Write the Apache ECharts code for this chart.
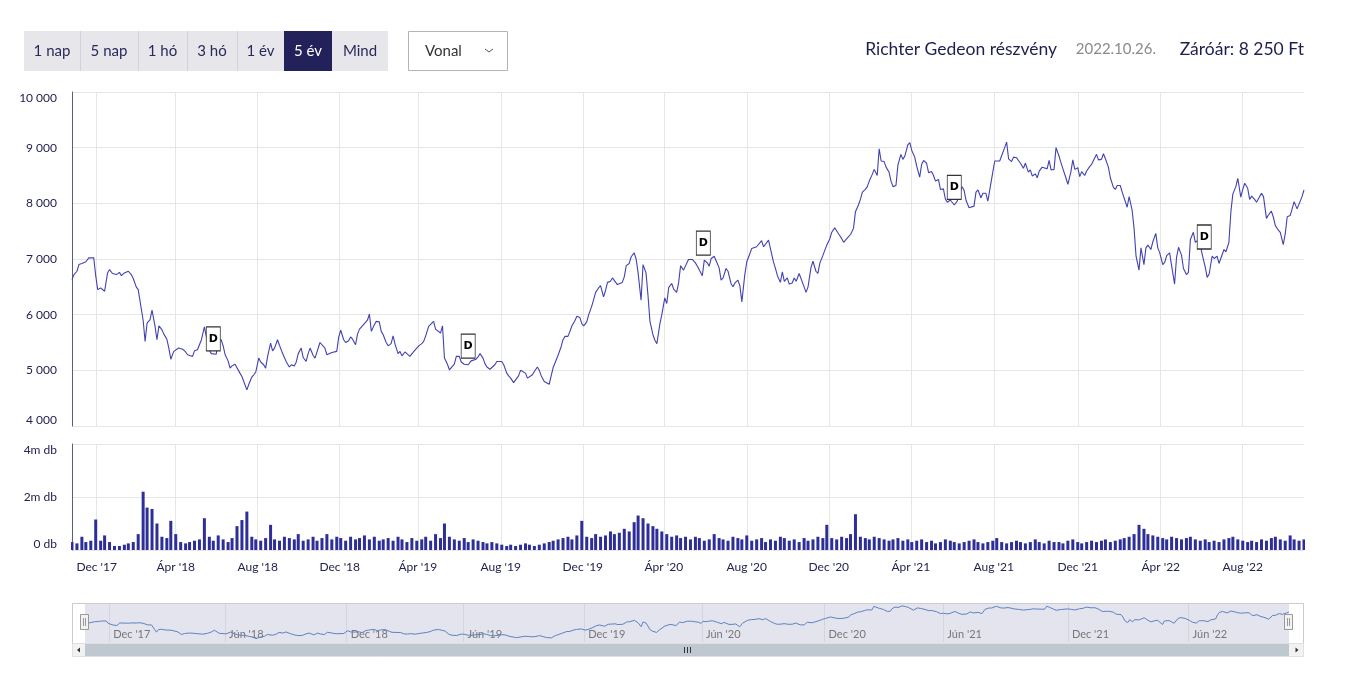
<!DOCTYPE html>
<html><head><meta charset="utf-8">
<script src="https://cdn.jsdelivr.net/npm/echarts@6/dist/echarts.min.js"></script>
<style>html,body{margin:0;padding:0;background:#fff;}#c{width:1345px;height:678px;}</style>
</head><body><div id="c"></div>
<script>
// ---------- DATA ----------
const firstDay = '2017-10-26';
const lastDay = '2022-10-26';
// Budapest Stock Exchange non-trading weekdays
const holidays = [
 '2017-11-01','2017-12-25','2017-12-26',
 '2018-01-01','2018-03-15','2018-03-16','2018-03-30','2018-04-02','2018-04-30','2018-05-01','2018-05-21','2018-08-20','2018-10-22','2018-10-23','2018-11-01','2018-11-02','2018-12-24','2018-12-25','2018-12-26','2018-12-31',
 '2019-01-01','2019-03-15','2019-04-19','2019-04-22','2019-05-01','2019-06-10','2019-08-19','2019-08-20','2019-10-23','2019-11-01','2019-12-24','2019-12-25','2019-12-26','2019-12-27',
 '2020-01-01','2020-04-10','2020-04-13','2020-05-01','2020-06-01','2020-08-20','2020-08-21','2020-10-23','2020-12-24','2020-12-25',
 '2021-01-01','2021-03-15','2021-04-02','2021-04-05','2021-05-24','2021-08-20','2021-11-01','2021-12-24',
 '2022-03-14','2022-03-15','2022-04-15','2022-04-18','2022-06-06'
];
// closing price, sampled about twice a week (Ft)
const priceSamples = [
 6630,6720,6780,6900,6920,6940,6950,7020,7000,7020,
 6700,6450,6480,6450,6420,6750,6810,6740,6760,6720,
 6760,6700,6750,6730,6780,6720,6650,6500,6450,6480,
 5900,5520,5850,5910,6080,5800,5550,5800,5730,5650,
 5560,5400,5200,5340,5360,5400,5370,5380,5330,5280,
 5290,5250,5350,5370,5390,5550,5780,5600,5360,5300,
 5330,5290,5540,5550,5440,5280,5170,5040,5080,5110,
 5130,4950,4890,4870,4650,4750,4880,4920,4970,5220,
 5150,5100,5040,5250,5490,5350,5400,5550,5450,5310,
 5290,5150,5060,5100,5080,5150,5300,5400,5230,5160,
 5300,5400,5270,5220,5200,5500,5470,5400,5280,5300,
 5320,5300,5340,5600,5720,5550,5500,5530,5600,5560,
 5460,5650,5740,5800,5800,5900,6010,5700,5820,5880,
 5870,
 5700,5640,5500,5440,5480,5620,5470,5300,5340,5260,
 5330,5360,5250,5240,5340,5400,5440,5480,5520,5620,
 5790,5800,5880,5740,5760,5670,5800,5220,5110,5010,
 5070,5110,5250,5250,5150,5110,5100,5100,5170,5190,
 5200,5240,5300,5220,5120,5060,5020,5050,5100,5160,
 5180,5160,5100,4950,4900,4860,4780,4760,4900,5000,
 4970,4950,4860,4890,4920,4980,5060,5000,4900,4800,
 4770,4750,4900,5050,5180,5270,5420,5550,5610,5610,
 5700,5800,5890,5970,5950,5840,5800,5870,6000,6150,
 6270,6400,6480,6520,6320,6430,6580,6600,6660,6640,
 6540,6540,6580,6680,6880,6920,7040,7110,7000,6750,
 6260,6900,6750,6350,5880,5640,5540,5480,5830,6000,
 6300,6200,6490,6560,6460,6400,6570,6880,6800,6800,
 6990,6970,6990,6930,6870,6870,6700,6980,6930,6870,
 7010,7050,6970,6840,6620,6660,6830,6780,6560,6500,
 6570,6620,6520,6230,6720,6950,7090,7190,7210,7220,
 7250,7330,7220,7200,7340,7180,6950,6830,6700,6580,
 6770,6600,6660,6550,6570,6660,6600,6740,6750,6500,
 6400,6500,6850,6960,6780,6740,6930,7060,7160,7250,
 7360,7480,7560,7530,7450,7370,7300,7360,7400,7440,
 7550,7850,7970,8070,8200,8250,8300,8400,8520,8610,
 8500,8980,8760,8750,8650,8560,8400,8300,8320,8690,
 8880,8790,8850,9050,9090,8950,8830,8670,8470,8700,
 8770,8720,8550,8570,8500,8400,8430,8250,8260,8080,
 8020,8060,8030,7970,8040,8170,8300,8230,8050,7920,
 7910,7950,8200,8240,8100,8180,8180,8040,8010,
 8560,8760,8760,8760,8780,9000,9100,8800,8750,8830,
 8820,8770,8720,8630,8720,8560,8600,8490,8530,8460,
 8580,8650,8640,8620,8770,8600,8610,9000,8850,8730,
 8620,8460,8340,8560,8780,8610,8640,8480,8570,8500,
 8580,8660,8700,8730,8880,8780,8790,8890,8800,8650,
 8460,8290,8250,8320,8320,8200,8200,7930,8120,7880,
 7550,7050,6800,7200,6900,7200,7250,7170,7310,7460,
 7200,7110,6900,6940,7060,7110,6880,6550,7030,7210,
 7070,6830,6720,6760,7350,7480,7300,7340,7250,7080,
 6860,6670,6730,7050,7010,7050,6920,6940,7170,7130,
 7300,7850,8170,8300,8450,8110,8250,8360,8270,8070,
 8130,8070,8020,8120,8180,8120,7730,7790,7860,7750,
 7600,7520,7480,7260,7450,7760,7780,7900,8030,7900,
 7900,8120,8240
];
// traded volume, sampled about weekly (million shares)
const volumeSamples = [
 0.3,0.25,0.5,0.3,0.35,1.15,0.35,0.55,0.3,0.15,
 0.15,0.2,0.25,0.3,0.6,2.2,1.6,1.55,1.0,0.5,
 0.45,1.1,0.6,0.3,0.25,0.3,0.35,0.4,1.2,0.5,
 0.35,0.55,0.4,0.3,0.45,0.9,1.13,1.45,0.5,0.4,
 0.35,0.45,0.95,0.4,0.35,0.5,0.45,0.4,0.6,0.35,
 0.4,0.5,0.35,0.45,0.6,0.4,0.5,0.45,0.35,0.5,
 0.4,0.45,0.55,0.4,0.5,0.35,
 0.4,0.45,0.35,0.5,0.4,0.3,0.45,0.35,0.4,0.5,
 0.35,0.6,0.45,1.0,0.5,0.4,0.35,0.45,0.3,0.4,
 0.35,0.3,0.25,0.3,0.25,0.2,0.15,0.2,0.15,0.2,
 0.25,0.2,0.15,0.2,0.25,0.3,0.35,0.4,0.45,0.5,
 0.4,0.55,1.1,0.5,0.45,0.6,0.5,0.55,0.7,0.6,
 0.65,0.8,0.7,1.05,1.3,1.2,1.0,0.9,0.8,0.7,
 0.6,0.5,0.55,0.45,0.5,
 0.4,0.5,0.45,0.35,0.4,0.6,0.45,0.4,0.35,0.5,
 0.45,0.4,0.55,0.35,0.4,0.45,0.3,0.4,0.35,0.5,
 0.45,0.35,0.4,0.3,0.45,0.35,0.4,0.5,0.45,0.95,
 0.45,0.4,0.5,0.45,0.6,1.35,0.5,0.45,0.4,0.5,
 0.45,0.4,0.35,0.4,0.45,0.35,0.4,0.3,0.35,0.4,
 0.3,0.35,0.25,0.3,0.4,0.35,0.3,0.25,0.3,0.35,
 0.4,0.3,0.25,0.3,
 0.35,0.45,0.3,0.25,0.3,0.35,0.3,0.25,0.3,0.4,
 0.3,0.25,0.35,0.3,0.3,0.25,0.35,0.4,0.3,0.25,
 0.3,0.35,0.3,0.35,0.4,0.3,0.35,0.4,0.45,0.5,
 0.6,0.95,0.8,0.6,0.55,0.5,0.45,0.4,0.5,0.45,
 0.4,0.45,0.5,0.4,0.35,0.4,0.3,0.35,0.3,0.4,
 0.45,0.5,0.4,0.35,0.3,0.35,0.3,0.4,0.35,0.45,
 0.5,0.4,0.35,0.55,0.4,0.35,0.4
];
// dividend flags: [date, price level]
const dividendFlags = [
 ['2018-05-30', 5350], ['2019-06-17', 5220], ['2020-06-02', 7070], ['2021-06-07', 8070], ['2022-06-07', 7180]
];
const mainTickMonths = {11: 'Dec', 3: 'Ápr', 7: 'Aug'};
const navTickMonths = {11: 'Dec', 5: 'Jún'};
const rangeButtons = ['1 nap', '5 nap', '1 hó', '3 hó', '1 év', '5 év', 'Mind'];
const selectedButton = 5;
const chartTypeLabel = 'Vonal';
const titleText = 'Richter Gedeon részvény';
const dateText = '2022.10.26.';
const closeText = 'Záróár: 8 250 Ft';

// ---------- BUILD ----------
const hol = new Set(holidays);
const days = [];
{
  const s = Date.parse(firstDay + 'T00:00:00Z'), e = Date.parse(lastDay + 'T00:00:00Z');
  for (let t = s; t <= e; t += 86400000) {
    const d = new Date(t), wd = d.getUTCDay();
    if (wd === 0 || wd === 6) continue;
    const iso = d.toISOString().slice(0, 10);
    if (!hol.has(iso)) days.push(iso);
  }
}
const N = days.length;
function spread(samples) {
  const out = new Array(N).fill('-');
  for (let i = 0; i < samples.length; i++) out[Math.round(i * (N - 1) / (samples.length - 1))] = samples[i];
  return out;
}
const priceData = spread(priceSamples);
const volData = spread(volumeSamples);
const monthOf = s => +s.slice(5, 7) - 1;
function tickFn(months) {
  return function (idx) {
    if (idx <= 0 || idx >= N) return false;
    const m = monthOf(days[idx]);
    return m !== monthOf(days[idx - 1]) && (m in months);
  };
}
function labelFn(months) {
  return function (val) { return months[monthOf(val)] + " '" + val.slice(2, 4); };
}
function dayIndex(d) { for (let i = 0; i < N; i++) if (days[i] >= d) return i; return N - 1; }
const fmtThousand = v => String(v).replace(/\B(?=(\d{3})+(?!\d))/g, ' ');

const FONT = 'Lato, "Noto Sans", sans-serif';
const INK = '#23234f';
const GRID = '#e6e6e6';

// ---------- UI chrome (graphic) ----------
const btnEdges = [24, 80, 138, 187, 237, 284, 332, 388];
const G = [];
G.push({type: 'rect', shape: {x: btnEdges[0], y: 31, width: btnEdges[7] - btnEdges[0], height: 40}, style: {fill: '#e6e6eb'}});
rangeButtons.forEach((t, i) => {
  const x0 = btnEdges[i], x1 = btnEdges[i + 1];
  if (i === selectedButton) G.push({type: 'rect', shape: {x: x0, y: 31, width: x1 - x0, height: 40}, style: {fill: '#23215a'}});
  if (i > 0 && i !== selectedButton && i !== selectedButton + 1) G.push({type: 'line', shape: {x1: x0 + 0.5, y1: 31, x2: x0 + 0.5, y2: 71}, style: {stroke: '#d2d2da', lineWidth: 1}});
  G.push({type: 'text', x: (x0 + x1) / 2, y: 51, style: {text: t, font: '15px ' + FONT, fill: i === selectedButton ? '#ffffff' : '#2a2a5a', textAlign: 'center', textVerticalAlign: 'middle'}});
});
G.push({type: 'rect', shape: {x: 408.5, y: 31.5, width: 99, height: 39}, style: {fill: '#fff', stroke: '#b4b4b4', lineWidth: 1}});
G.push({type: 'text', x: 425, y: 51, style: {text: chartTypeLabel, font: '15px ' + FONT, fill: '#333', textVerticalAlign: 'middle'}});
G.push({type: 'polyline', shape: {points: [[485, 49], [489, 52], [493, 49]]}, style: {stroke: '#555', lineWidth: 1, fill: null}});
G.push({type: 'text', x: 1304, y: 49, style: {text: closeText, font: '17.5px ' + FONT, fill: '#1f1f4f', textAlign: 'right', textVerticalAlign: 'middle'}});
G.push({type: 'text', x: 1156, y: 49, style: {text: dateText, font: '15px ' + FONT, fill: '#8a8a8a', textAlign: 'right', textVerticalAlign: 'middle'}});
G.push({type: 'text', x: 1057, y: 49, style: {text: titleText, font: '17.5px ' + FONT, fill: '#1f1f4f', textAlign: 'right', textVerticalAlign: 'middle'}});
// navigator frame
G.push({type: 'rect', z: -30, shape: {x: 72.5, y: 603.5, width: 1231, height: 40}, style: {fill: '#fff', stroke: '#cccccc', lineWidth: 1}});
G.push({type: 'rect', z: -25, shape: {x: 85, y: 604, width: 1204, height: 39}, style: {fill: '#e4e4ee'}});
// scrollbar
G.push({type: 'rect', shape: {x: 72.5, y: 643.5, width: 1231, height: 13}, style: {fill: '#f2f2f2', stroke: '#e0e0e0', lineWidth: 1}});
G.push({type: 'rect', shape: {x: 85, y: 644, width: 1204, height: 12}, style: {fill: '#bfc8d1'}});
G.push({type: 'polygon', shape: {points: [[80, 647.5], [80, 652.5], [77, 650]]}, style: {fill: '#333'}});
G.push({type: 'polygon', shape: {points: [[1295.5, 647.5], [1295.5, 652.5], [1298.5, 650]]}, style: {fill: '#333'}});
[684.5, 687.5, 690.5].forEach(x => G.push({type: 'line', shape: {x1: x, y1: 647, x2: x, y2: 653}, style: {stroke: '#333', lineWidth: 1}}));
// navigator handles
[85, 1289].forEach(x => {
  G.push({type: 'rect', z: 50, shape: {x: x - 4.5, y: 614.5, width: 8, height: 15}, style: {fill: '#f2f2f2', stroke: '#999', lineWidth: 1}});
  G.push({type: 'line', z: 51, shape: {x1: x - 1.5, y1: 618, x2: x - 1.5, y2: 626}, style: {stroke: '#999', lineWidth: 1}});
  G.push({type: 'line', z: 51, shape: {x1: x + 0.5, y1: 618, x2: x + 0.5, y2: 626}, style: {stroke: '#999', lineWidth: 1}});
});

const chart = echarts.init(document.getElementById('c'), null, {renderer: 'canvas'});
chart.setOption({
  animation: false,
  textStyle: {fontFamily: FONT},
  grid: [
    {left: 72, top: 92, width: 1232, height: 334},
    {left: 72, top: 444, width: 1232, height: 106},
    {left: 85, top: 604, width: 1204, height: 38}
  ],
  xAxis: [
    {gridIndex: 0, type: 'category', data: days, boundaryGap: false, axisLine: {show: false}, axisTick: {show: false},
     axisLabel: {show: false}, splitLine: {show: true, interval: tickFn(mainTickMonths), lineStyle: {color: GRID}}},
    {gridIndex: 1, type: 'category', data: days, boundaryGap: false, axisLine: {show: false}, axisTick: {show: false},
     axisLabel: {show: true, interval: tickFn(mainTickMonths), formatter: labelFn(mainTickMonths), color: INK, fontSize: 12, margin: 11, fontFamily: FONT},
     splitLine: {show: true, interval: tickFn(mainTickMonths), lineStyle: {color: GRID}}},
    {gridIndex: 2, type: 'category', data: days, boundaryGap: false, axisLine: {show: false}, axisTick: {show: false},
     axisLabel: {show: true, inside: true, interval: tickFn(navTickMonths), formatter: labelFn(navTickMonths), color: '#777', fontSize: 11, margin: 2, align: 'left', padding: [0, 0, 0, 4], fontFamily: FONT},
     splitLine: {show: true, interval: tickFn(navTickMonths), lineStyle: {color: '#d4d4de'}}}
  ],
  yAxis: [
    {gridIndex: 0, type: 'value', min: 4000, max: 10000, interval: 1000,
     axisLine: {show: true, lineStyle: {color: '#5c5c80'}}, axisTick: {show: false},
     axisLabel: {margin: 15, color: INK, fontSize: 12, fontFamily: FONT, formatter: fmtThousand, verticalAlignMaxLabel: 'top', verticalAlignMinLabel: 'bottom'},
     splitLine: {lineStyle: {color: GRID}}},
    {gridIndex: 1, type: 'value', min: 0, max: 4, interval: 2,
     axisLine: {show: true, lineStyle: {color: '#5c5c80'}}, axisTick: {show: false},
     axisLabel: {margin: 15, color: INK, fontSize: 12, fontFamily: FONT, formatter: v => v === 0 ? '0 db' : v + 'm db', verticalAlignMaxLabel: 'top', verticalAlignMinLabel: 'bottom'},
     splitLine: {lineStyle: {color: GRID}}},
    {gridIndex: 2, type: 'value', min: 4200, max: 9300, show: false, splitLine: {show: false}}
  ],
  series: [
    {type: 'line', xAxisIndex: 0, yAxisIndex: 0, data: priceData, connectNulls: true, symbol: 'none', silent: true,
     lineStyle: {color: '#4141b2', width: 1.1},
     markPoint: {symbol: 'rect', symbolSize: [14, 24], symbolOffset: [0, -12], silent: true,
       itemStyle: {color: '#ffffff', borderColor: '#333', borderWidth: 1},
       label: {show: true, formatter: 'D', color: '#000', fontWeight: 'bold', fontSize: 11, position: 'inside', fontFamily: '"DejaVu Sans", sans-serif'},
       data: dividendFlags.map(f => ({coord: [dayIndex(f[0]), f[1]]}))}},
    {type: 'bar', xAxisIndex: 1, yAxisIndex: 1, data: volData, barWidth: 3, silent: true, itemStyle: {color: '#2e2e99'}},
    {type: 'line', xAxisIndex: 2, yAxisIndex: 2, data: priceData, connectNulls: true, symbol: 'none', silent: true,
     lineStyle: {color: '#5f82bd', width: 1}}
  ],
  graphic: G
});
</script></body></html>
